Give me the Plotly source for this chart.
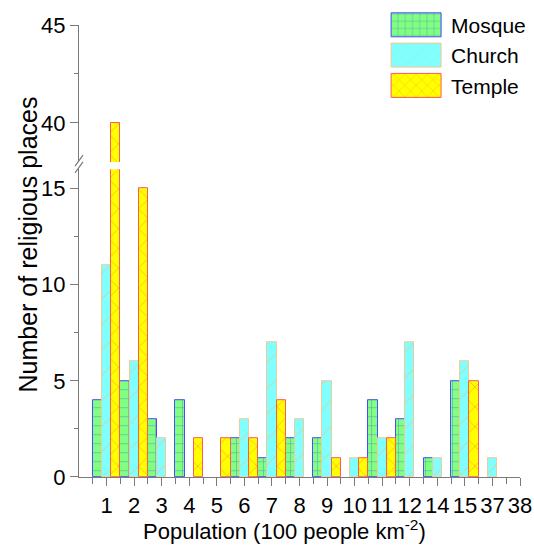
import plotly.graph_objects as go

# Population-density classes (100 people per km^2)
categories = ["1", "2", "3", "4", "5", "6", "7", "8", "9", "10",
              "11", "12", "14", "15", "37", "38"]

mosque = [4, 5, 3, 4, 0, 2, 1, 2, 2, 0, 4, 3, 1, 5, 0, 0]
church = [11, 6, 2, 0, 0, 3, 7, 3, 5, 1, 2, 7, 1, 6, 1, 0]
temple = [40, 15, 0, 2, 2, 2, 4, 0, 1, 1, 2, 0, 0, 5, 0, 0]

positions = list(range(len(categories)))

series = [
    dict(name="Mosque", values=mosque, fill="#80FF80", edge="#4B4BFF",
         pattern=dict(shape="+", fgcolor="#4658E8", bgcolor="#80FF80",
                      size=9, solidity=0.14)),
    dict(name="Church", values=church, fill="#80FFFF", edge="#F2C998",
         pattern=dict(shape="/", fgcolor="#E2C48E", bgcolor="#80FFFF",
                      size=18, solidity=0.07)),
    dict(name="Temple", values=temple, fill="#FFFF00", edge="#FF5A5A",
         pattern=dict(shape="x", fgcolor="#FF5A1E", bgcolor="#FFFF00",
                      size=14, solidity=0.1)),
]

FONT = "Liberation Sans, Arial, sans-serif"
AXIS = "#7A7A7A"
FS = 22

fig = go.Figure()
for yref in ("y", "y2"):
    for s in series:
        # empty classes get no bar at all (not even a baseline outline)
        heights = [v if v > 0 else None for v in s["values"]]
        fig.add_trace(go.Bar(
            x=positions, y=heights, name=s["name"],
            xaxis="x", yaxis=yref,
            showlegend=(yref == "y"),
            marker=dict(color=s["fill"],
                        line=dict(color=s["edge"], width=1),
                        pattern=s["pattern"]),
        ))

axis_common = dict(
    showline=True, linecolor=AXIS, linewidth=1.2,
    ticks="outside", tickcolor=AXIS, ticklen=8, tickwidth=1.2,
    showgrid=False, zeroline=False, automargin=False, tickangle=0,
    tickfont=dict(family=FONT, size=FS, color="black"),
)

fig.update_layout(
    width=534, height=545,
    margin=dict(l=79, r=14, t=25, b=68, autoexpand=False),
    plot_bgcolor="white", paper_bgcolor="white",
    barmode="group", bargap=0, bargroupgap=0,
    font=dict(family=FONT, color="black"),
    xaxis=dict(
        **axis_common,
        range=[-1, len(categories) - 1],
        tickmode="array", tickvals=positions, ticktext=categories,
        minor=dict(ticks="outside", tickmode="linear", tick0=-0.5, dtick=1,
                   ticklen=6, tickcolor=AXIS, tickwidth=1.2),
        anchor="y",
    ),
    yaxis=dict(
        **axis_common,
        domain=[0, 0.681],
        range=[0, 16],
        tickmode="array", tickvals=[0, 5, 10, 15],
        minor=dict(ticks="outside", tickvals=[2.5, 7.5, 12.5],
                   ticklen=4, tickcolor=AXIS, tickwidth=1.2),
        anchor="x",
    ),
    yaxis2=dict(
        **axis_common,
        domain=[0.697, 1],
        range=[38, 45],
        tickmode="array", tickvals=[40, 45],
        minor=dict(ticks="outside", tickvals=[42.5],
                   ticklen=4, tickcolor=AXIS, tickwidth=1.2),
        anchor="x",
    ),
    legend=dict(
        x=0.685, xanchor="left", y=1.045, yanchor="top",
        font=dict(family=FONT, size=21),
        bgcolor="rgba(0,0,0,0)", tracegroupgap=0,
        itemwidth=60,
    ),
    annotations=[
        dict(text="Number of religious places", textangle=-90,
             xref="paper", yref="paper", x=-0.115, y=0.515,
             xanchor="center", yanchor="middle", showarrow=False,
             font=dict(family=FONT, size=25)),
        dict(text="Population (100 people km<sup>-2</sup>)",
             xref="paper", yref="paper", x=0.467, y=-0.117,
             xanchor="center", yanchor="middle", showarrow=False,
             font=dict(family=FONT, size=22)),
    ],
)

# Axis-break marks on the left spine
for y0 in (0.685, 0.700):
    fig.add_shape(type="line", xref="paper", yref="paper",
                  x0=-0.009, x1=0.009, y0=y0 - 0.012, y1=y0 + 0.012,
                  line=dict(color=AXIS, width=1.2))

# Enlarge the legend swatches to wide rectangles
legend_js = """
var gd = document.getElementById('{plot_id}');
gd.querySelectorAll('.legend .legendpoints path').forEach(function (p) {
    p.setAttribute('d', 'M25,12H-25V-12H25Z');
});
"""

fig.write_html("out.html", post_script=legend_js)
